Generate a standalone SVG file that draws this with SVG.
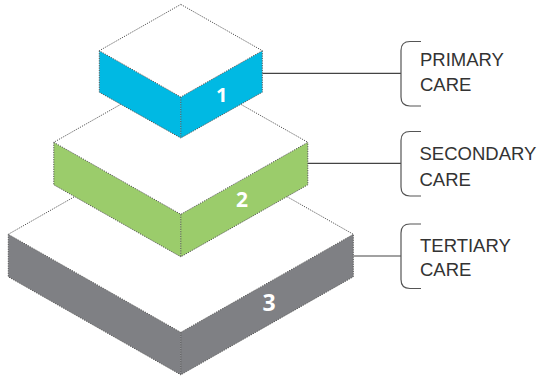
<svg xmlns="http://www.w3.org/2000/svg" width="541" height="378" viewBox="0 0 541 378">
<style>
.top{fill:#ffffff;stroke:#555;stroke-width:1;stroke-dasharray:1.2 1.2}
.edge{fill:none;stroke:#555;stroke-width:1;stroke-dasharray:1.2 1.2}
.b1{fill:#00b9e3}
.b2{fill:#9bcc6b}
.b3{fill:#7f8084}
.num{font-family:"Open Sans","Noto Sans",sans-serif;font-weight:700;fill:#ffffff;text-anchor:middle}
.lbl{font-family:"Liberation Sans",Arial,sans-serif;font-size:18.5px;fill:#333333}
.conn{fill:none;stroke:#444;stroke-width:1.2}
.brk{fill:none;stroke:#555;stroke-width:1.2}
</style>
<rect width="541" height="378" fill="#ffffff"/>
<g id="tier3">
<polygon class="b3" points="8.3,234.3 180.8,332.3 180.8,374.8 8.3,276.8"/>
<polygon class="b3" points="180.8,332.3 353.3,234.3 353.3,276.8 180.8,374.8"/>
<polygon class="top" points="180.8,136.3 353.3,234.3 180.8,332.3 8.3,234.3"/>
<path class="edge" d="M8.3,234.3V276.8L180.8,374.8L353.3,276.8V234.3M180.8,332.3V374.8"/>
<text class="num" x="269" y="311" font-size="23">3</text>
</g>
<g id="tier2">
<polygon class="b2" points="53.8,142.3 180.8,214.3 180.8,256.8 53.8,184.8"/>
<polygon class="b2" points="180.8,214.3 307.8,142.3 307.8,184.8 180.8,256.8"/>
<polygon class="top" points="180.8,70.3 307.8,142.3 180.8,214.3 53.8,142.3"/>
<path class="edge" d="M53.8,142.3V184.8L180.8,256.8L307.8,184.8V142.3M180.8,214.3V256.8"/>
<text class="num" x="242" y="207.3" font-size="21">2</text>
</g>
<g id="tier1">
<polygon class="b1" points="99.3,50.7 180.8,97 180.8,138 99.3,92.2"/>
<polygon class="b1" points="180.8,97 262.3,50.7 262.3,92.2 180.8,138"/>
<polygon class="top" points="180.8,4.4 262.3,50.7 180.8,97 99.3,50.7"/>
<path class="edge" d="M99.3,50.7V92.2L180.8,138L262.3,92.2V50.7M180.8,97V138"/>
<text class="num" x="221.7" y="102.3" font-size="20">1</text>
</g>
<g id="connectors">
<line class="conn" x1="262.5" y1="73.3" x2="401" y2="73.3"/>
<line class="conn" x1="308" y1="163.3" x2="401" y2="163.3"/>
<line class="conn" x1="353.5" y1="256" x2="401" y2="256"/>
<path class="brk" d="M421,41.5H410Q401,41.5 401,50.5V97Q401,106 410,106H421"/>
<path class="brk" d="M421,131.5H410Q401,131.5 401,140.5V187Q401,196 410,196H421"/>
<path class="brk" d="M421,224H410Q401,224 401,233V279.5Q401,288.5 410,288.5H421"/>
</g>
<g id="label-primary">
<text class="lbl" x="420" y="66">PRIMARY</text>
<text class="lbl" x="420" y="90.7">CARE</text>
</g>
<g id="label-secondary">
<text class="lbl" x="419.5" y="160">SECONDARY</text>
<text class="lbl" x="419.5" y="186">CARE</text>
</g>
<g id="label-tertiary">
<text class="lbl" x="420" y="252.3">TERTIARY</text>
<text class="lbl" x="420" y="275.7">CARE</text>
</g>
</svg>
